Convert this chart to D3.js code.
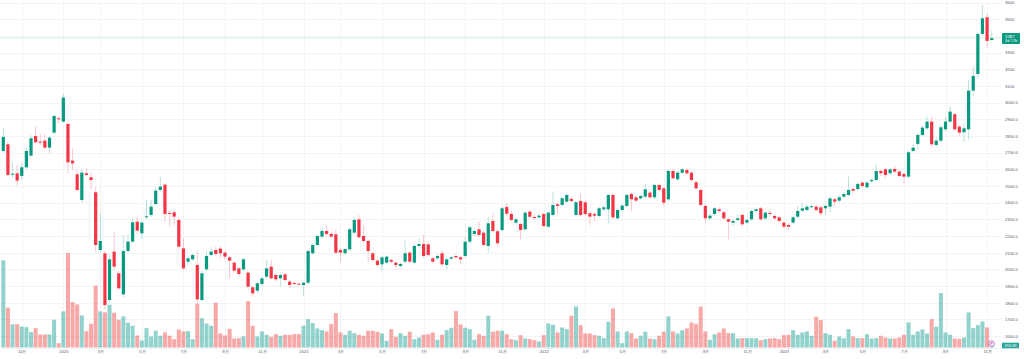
<!DOCTYPE html>
<html>
<head>
<meta charset="utf-8">
<script src="https://cdn.jsdelivr.net/npm/d3@7"></script>
<style>
  body { margin: 0; background: #ffffff; }
  svg { display: block; font-family: "Noto Sans", "Noto Sans CJK JP", sans-serif; }
</style>
</head>
<body>
<script>
// weekly bars, first bar = week of 2019-10-07
var firstWeek = new Date(2019, 9, 7);

var opens = [
  2710, 2750, 2568, 2576, 2560, 2612, 2682, 2800, 2766, 2772,
  2730, 2820, 2906, 2886, 2872, 2652, 2570, 2416, 2576, 2552,
  2462, 2116, 2096, 1816, 2106, 1976, 1850, 2110, 2166, 2286,
  2216, 2314, 2326, 2392, 2476, 2508, 2338, 2342, 2296, 2126,
  2046, 2060, 2026, 1816, 2000, 2086, 2116, 2124, 2100, 2072,
  2040, 2006, 2000, 1980, 1892, 1872, 1912, 1956, 2016, 1966,
  1946, 1970, 1926, 1918, 1914, 1906, 1920, 2096, 2146, 2196,
  2230, 2212, 2210, 2116, 2096, 2120, 2220, 2300, 2200, 2170,
  2096, 2052, 2030, 2040, 2056, 2040, 2020, 2046, 2100, 2040,
  2140, 2152, 2150, 2066, 2066, 2096, 2026, 2064, 2080, 2072,
  2080, 2166, 2212, 2240, 2220, 2140, 2290, 2228, 2236, 2374,
  2332, 2280, 2272, 2240, 2346, 2314, 2312, 2332, 2256, 2326,
  2390, 2386, 2406, 2422, 2326, 2410, 2402, 2336, 2332, 2320,
  2360, 2360, 2446, 2306, 2356, 2380, 2452, 2432, 2426, 2436,
  2460, 2432, 2506, 2486, 2420, 2590, 2540, 2580, 2596, 2580,
  2522, 2476, 2380, 2306, 2332, 2360, 2342, 2300, 2280, 2296,
  2326, 2280, 2300, 2350, 2366, 2306, 2338, 2320, 2312, 2280,
  2266, 2280, 2316, 2352, 2356, 2374, 2376, 2372, 2366, 2376,
  2420, 2412, 2436, 2446, 2482, 2482, 2520, 2492, 2528, 2536,
  2590, 2600, 2576, 2602, 2586, 2572, 2556, 2710, 2752, 2806,
  2846, 2886, 2746, 2772, 2840, 2886, 2930, 2856, 2822, 2840,
  3072, 3172, 3412, 3512, 3376
];

var highs = [
  2848, 2770, 2638, 2626, 2638, 2728, 2806, 2860, 2816, 2810,
  2800, 2926, 2916, 3052, 2878, 2726, 2596, 2602, 2602, 2580,
  2496, 2336, 2110, 2090, 2226, 1990, 2206, 2206, 2306, 2316,
  2290, 2416, 2416, 2490, 2556, 2516, 2350, 2356, 2310, 2186,
  2080, 2096, 2110, 1990, 2106, 2130, 2136, 2140, 2110, 2080,
  2050, 2016, 2070, 1990, 1900, 1926, 1956, 2056, 2060, 1976,
  1976, 1980, 1936, 1926, 1920, 1926, 2120, 2156, 2210, 2252,
  2266, 2226, 2240, 2126, 2130, 2250, 2312, 2326, 2260, 2180,
  2106, 2062, 2080, 2086, 2066, 2050, 2040, 2172, 2110, 2150,
  2186, 2206, 2166, 2076, 2090, 2120, 2070, 2080, 2090, 2080,
  2196, 2262, 2246, 2286, 2230, 2312, 2336, 2240, 2376, 2396,
  2350, 2310, 2280, 2350, 2356, 2330, 2336, 2340, 2350, 2466,
  2400, 2436, 2456, 2436, 2412, 2456, 2412, 2346, 2342, 2376,
  2382, 2456, 2456, 2366, 2392, 2456, 2462, 2442, 2450, 2516,
  2470, 2516, 2516, 2496, 2600, 2600, 2590, 2612, 2606, 2590,
  2532, 2486, 2390, 2332, 2376, 2370, 2352, 2310, 2300, 2330,
  2336, 2306, 2360, 2370, 2376, 2350, 2360, 2330, 2320, 2290,
  2276, 2322, 2380, 2400, 2390, 2390, 2386, 2380, 2390, 2436,
  2430, 2446, 2462, 2556, 2492, 2522, 2530, 2530, 2546, 2630,
  2600, 2610, 2610, 2620, 2596, 2580, 2712, 2750, 2816, 2860,
  2916, 2916, 2790, 2862, 2916, 2976, 2940, 2866, 2870, 3136,
  3220, 3420, 3586, 3532, 3432
];

var lows = [
  2700, 2560, 2550, 2502, 2536, 2600, 2676, 2756, 2746, 2720,
  2696, 2810, 2876, 2880, 2576, 2596, 2466, 2400, 2556, 2476,
  2106, 2100, 1760, 1800, 1996, 1876, 1830, 2100, 2156, 2216,
  2180, 2300, 2316, 2380, 2466, 2286, 2256, 2270, 2120, 1996,
  2026, 2050, 1796, 1806, 1990, 2076, 2080, 2066, 2056, 1946,
  1980, 1960, 1990, 1880, 1836, 1856, 1900, 1940, 1936, 1926,
  1896, 1926, 1886, 1906, 1900, 1840, 1910, 2086, 2136, 2186,
  2200, 2186, 2090, 2046, 2086, 2110, 2210, 2186, 2160, 2046,
  2046, 2016, 1990, 2030, 2036, 2006, 2010, 2036, 2036, 2030,
  2130, 2070, 2076, 2036, 2056, 2020, 2000, 2056, 2064, 2030,
  2070, 2156, 2200, 2196, 2136, 2100, 2220, 2140, 2226, 2320,
  2286, 2270, 2180, 2230, 2306, 2300, 2300, 2250, 2246, 2316,
  2330, 2376, 2396, 2400, 2316, 2316, 2320, 2266, 2290, 2310,
  2350, 2276, 2300, 2296, 2346, 2370, 2350, 2400, 2416, 2426,
  2420, 2422, 2466, 2380, 2410, 2536, 2530, 2570, 2566, 2526,
  2476, 2376, 2280, 2296, 2322, 2336, 2296, 2180, 2260, 2286,
  2260, 2270, 2290, 2340, 2290, 2296, 2326, 2296, 2280, 2246,
  2236, 2270, 2306, 2342, 2346, 2366, 2346, 2320, 2326, 2340,
  2376, 2400, 2426, 2436, 2462, 2472, 2490, 2482, 2520, 2526,
  2560, 2546, 2566, 2576, 2550, 2516, 2546, 2700, 2720, 2796,
  2836, 2730, 2736, 2760, 2830, 2876, 2830, 2800, 2766, 2780,
  3040, 3150, 3400, 3330, 3370
];

var closes = [
  2794, 2566, 2574, 2532, 2612, 2710, 2786, 2762, 2760, 2730,
  2790, 2920, 2900, 3030, 2642, 2636, 2476, 2580, 2566, 2536,
  2146, 2170, 1786, 2060, 2016, 1886, 2110, 2166, 2282, 2232,
  2280, 2318, 2376, 2472, 2496, 2332, 2334, 2316, 2136, 2006,
  2066, 2086, 1820, 1976, 2080, 2106, 2092, 2096, 2076, 2052,
  1992, 1972, 2060, 1896, 1856, 1916, 1946, 2006, 1946, 1940,
  1966, 1936, 1906, 1914, 1910, 1920, 2110, 2146, 2200, 2230,
  2212, 2196, 2100, 2100, 2122, 2240, 2296, 2192, 2170, 2110,
  2056, 2026, 2072, 2076, 2046, 2026, 2032, 2096, 2046, 2140,
  2152, 2080, 2086, 2046, 2080, 2030, 2060, 2072, 2072, 2060,
  2166, 2252, 2230, 2206, 2146, 2276, 2230, 2156, 2366, 2334,
  2296, 2300, 2236, 2340, 2316, 2310, 2322, 2260, 2340, 2386,
  2380, 2426, 2446, 2410, 2402, 2326, 2332, 2316, 2322, 2366,
  2372, 2446, 2312, 2356, 2382, 2446, 2420, 2412, 2440, 2480,
  2432, 2506, 2476, 2400, 2590, 2546, 2580, 2600, 2576, 2536,
  2486, 2386, 2306, 2322, 2366, 2350, 2306, 2286, 2290, 2306,
  2270, 2296, 2350, 2360, 2300, 2340, 2334, 2306, 2290, 2256,
  2256, 2312, 2350, 2366, 2376, 2378, 2356, 2336, 2380, 2426,
  2406, 2432, 2452, 2476, 2472, 2512, 2500, 2520, 2536, 2590,
  2576, 2566, 2600, 2586, 2560, 2556, 2702, 2730, 2806, 2850,
  2886, 2750, 2772, 2852, 2886, 2946, 2840, 2820, 2846, 3072,
  3160, 3412, 3506, 3370, 3387
];

// weekly volume, thousands of shares
var volumes = [
  23490, 10720, 6210, 6290, 5670, 5480, 4130, 5210, 3510, 3510,
  3510, 7480, 1160, 9720, 25460, 12230, 11610, 8640, 4400, 6400,
  16660, 9720, 9450, 11530, 9370, 7480, 8370, 6670, 5860, 3240,
  1890, 5210, 2970, 4510, 3160, 4050, 3160, 2240, 4860, 4320,
  4400, 2240, 11800, 7910, 6480, 5860, 12070, 3780, 3240, 5050,
  2430, 2510, 2970, 12500, 5860, 2970, 4320, 3430, 2890, 3590,
  3160, 3430, 3430, 3590, 3590, 5860, 7640, 6560, 5130, 4670,
  4320, 6290, 9260, 4050, 3430, 4510, 3860, 3430, 3160, 4510,
  4510, 4240, 3780, 1810, 4940, 2890, 3860, 3160, 4240, 2240,
  2700, 3430, 3590, 4050, 2080, 3430, 4670, 5320, 9800, 6210,
  5320, 4940, 2080, 3590, 3160, 8560, 4240, 4510, 4510, 3590,
  2240, 1970, 3320, 2430, 2240, 1970, 1620, 3320, 6480, 6130,
  4050, 5400, 4940, 8560, 11070, 6020, 3780, 3780, 3320, 3160,
  2510, 6940, 10530, 4320, 1160, 4320, 3860, 2430, 3160, 4240,
  2430, 2240, 3160, 4240, 8370, 4320, 3780, 4670, 5130, 6750,
  6290, 10990, 4320, 2080, 3590, 4050, 5130, 3860, 3860, 2430,
  2510, 2510, 2510, 2510, 1970, 2240, 2430, 2510, 2240, 3320,
  3430, 4670, 3430, 4050, 4320, 3160, 8290, 7370, 3860, 3430,
  1810, 2970, 2510, 4940, 2970, 2510, 2510, 3590, 2430, 2510,
  3160, 2700, 2430, 2430, 2700, 3430, 6750, 3430, 4320, 4860,
  3780, 7640, 5590, 14660, 4050, 3430, 2430, 2350, 2700, 9450,
  5210, 6020, 7020, 5400, 350.3
];

var priceTicks = d3.range(1600, 3700, 100);
var lastPrice = 3387;
var lastCountdown = '3d 17h';
var lastVolumeLabel = '350.3K';

var width = 1024, height = 359;
var paneRight = 1001, paneBottom = 347.5;
var upColor = '#089981', downColor = '#f23645';
var upVol = 'rgba(38,166,154,0.5)', downVol = 'rgba(239,83,80,0.5)';

var bars = opens.map(function (o, i) {
  return {
    i: i,
    date: d3.timeDay.offset(firstWeek, 7 * i),
    o: o, h: highs[i], l: lows[i], c: closes[i], v: volumes[i]
  };
});

var svg = d3.select('body').append('svg')
    .attr('width', width)
    .attr('height', height);

svg.append('rect')
    .attr('width', width)
    .attr('height', height)
    .attr('fill', '#ffffff');

var x = d3.scaleLinear()
    .domain([0, bars.length - 1])
    .range([3.3, 991.7]);

var y = d3.scaleLinear()
    .domain([1600, 3600])
    .range([336, 2.6]);

var yVol = d3.scaleLinear()
    .domain([0, 25460])
    .range([paneBottom, 253]);

// month ticks: first bar of every odd month
var tickIdx = bars.filter(function (d, i) {
  if (i === 0) return false;
  var m = d.date.getMonth();
  return m !== bars[i - 1].date.getMonth() && m % 2 === 0;
}).map(function (d) { return d.i; });

function monthLabel(i) {
  var dt = bars[i].date;
  if (dt.getMonth() === 0) return String(dt.getFullYear());
  return (dt.getMonth() + 1) + '月';
}

// grid
var grid = svg.append('g');
grid.selectAll('line.h')
    .data(priceTicks)
    .enter().append('line')
    .attr('x1', 0).attr('x2', paneRight)
    .attr('y1', function (d) { return Math.round(y(d)) + 0.5; })
    .attr('y2', function (d) { return Math.round(y(d)) + 0.5; })
    .attr('stroke', '#f3f4f6')
    .attr('stroke-width', 1);

grid.selectAll('line.v')
    .data(tickIdx)
    .enter().append('line')
    .attr('x1', function (d) { return Math.round(x(d)) + 0.5; })
    .attr('x2', function (d) { return Math.round(x(d)) + 0.5; })
    .attr('y1', 0).attr('y2', paneBottom)
    .attr('stroke', '#f3f4f6')
    .attr('stroke-width', 1);

// volume
svg.append('g').selectAll('rect')
    .data(bars)
    .enter().append('rect')
    .attr('x', function (d) { return x(d.i) - 2; })
    .attr('width', 4)
    .attr('y', function (d) { return yVol(d.v); })
    .attr('height', function (d) { return paneBottom - yVol(d.v); })
    .attr('fill', function (d) { return d.c >= d.o ? upVol : downVol; });

// last price line
svg.append('line')
    .attr('x1', 0).attr('x2', paneRight)
    .attr('y1', y(lastPrice)).attr('y2', y(lastPrice))
    .attr('stroke', '#089981')
    .attr('stroke-opacity', 0.2)
    .attr('stroke-width', 0.8);

// candles
var candles = svg.append('g').selectAll('g')
    .data(bars)
    .enter().append('g');

candles.append('line')
    .attr('x1', function (d) { return x(d.i); })
    .attr('x2', function (d) { return x(d.i); })
    .attr('y1', function (d) { return y(d.h); })
    .attr('y2', function (d) { return y(d.l); })
    .attr('stroke', function (d) { return d.c >= d.o ? upColor : downColor; })
    .attr('stroke-opacity', 0.4)
    .attr('stroke-width', 0.7);

candles.append('rect')
    .attr('x', function (d) { return x(d.i) - 1.6; })
    .attr('width', 3.2)
    .attr('y', function (d) { return y(Math.max(d.o, d.c)); })
    .attr('height', function (d) { return Math.max(1, Math.abs(y(d.o) - y(d.c))); })
    .attr('fill', function (d) { return d.c >= d.o ? upColor : downColor; });

// bottom border
svg.append('line')
    .attr('x1', 0).attr('x2', width)
    .attr('y1', 348.5).attr('y2', 348.5)
    .attr('stroke', '#e6e8ee')
    .attr('stroke-width', 0.6);

// time axis
var xAxis = d3.axisBottom(x)
    .tickValues(tickIdx)
    .tickSize(0)
    .tickPadding(0)
    .tickFormat(monthLabel);

var gx = svg.append('g')
    .attr('transform', 'translate(0,350)')
    .call(xAxis);
gx.select('.domain').remove();
gx.selectAll('text')
    .attr('font-size', 4.2)
    .attr('fill', '#555a66')
    .attr('dy', '0.71em');

// price axis
var yAxis = d3.axisRight(y)
    .tickValues(priceTicks)
    .tickSize(0)
    .tickPadding(0)
    .tickFormat(function (d) { return d > 3000 ? String(d) : d.toFixed(1); });

var gy = svg.append('g')
    .attr('transform', 'translate(1005,0)')
    .call(yAxis);
gy.select('.domain').remove();
gy.selectAll('text')
    .attr('font-size', 4.2)
    .attr('fill', '#555a66');

// last price tag
var tagY = y(lastPrice);
svg.append('rect')
    .attr('x', 1002).attr('y', tagY - 5)
    .attr('width', 18).attr('height', 11)
    .attr('rx', 0.8)
    .attr('fill', upColor);
svg.append('text')
    .attr('x', 1005).attr('y', tagY - 0.6)
    .attr('font-size', 4.2)
    .attr('fill', '#ffffff')
    .text(String(lastPrice));
svg.append('text')
    .attr('x', 1005).attr('y', tagY + 4.2)
    .attr('font-size', 3.8)
    .attr('fill', '#ffffff')
    .text(lastCountdown);

// last volume tag
var lastBar = bars[bars.length - 1];
var vTagY = yVol(lastBar.v);
svg.append('rect')
    .attr('x', 1002).attr('y', vTagY - 3.5)
    .attr('width', 17).attr('height', 5.5)
    .attr('fill', '#26a69a');
svg.append('text')
    .attr('x', 1004.5).attr('y', vTagY + 0.9)
    .attr('font-size', 3.8)
    .attr('fill', '#ffffff')
    .text(lastVolumeLabel);

// event marker on last bar
svg.append('circle')
    .attr('cx', x(lastBar.i)).attr('cy', 343.6)
    .attr('r', 2.8)
    .attr('fill', '#ffffff')
    .attr('stroke', '#ab47bc')
    .attr('stroke-width', 0.7);
svg.append('text')
    .attr('x', x(lastBar.i)).attr('y', 345)
    .attr('text-anchor', 'middle')
    .attr('font-size', 3.6)
    .attr('font-weight', 'bold')
    .attr('fill', '#ab47bc')
    .text('P');
</script>
</body>
</html>
